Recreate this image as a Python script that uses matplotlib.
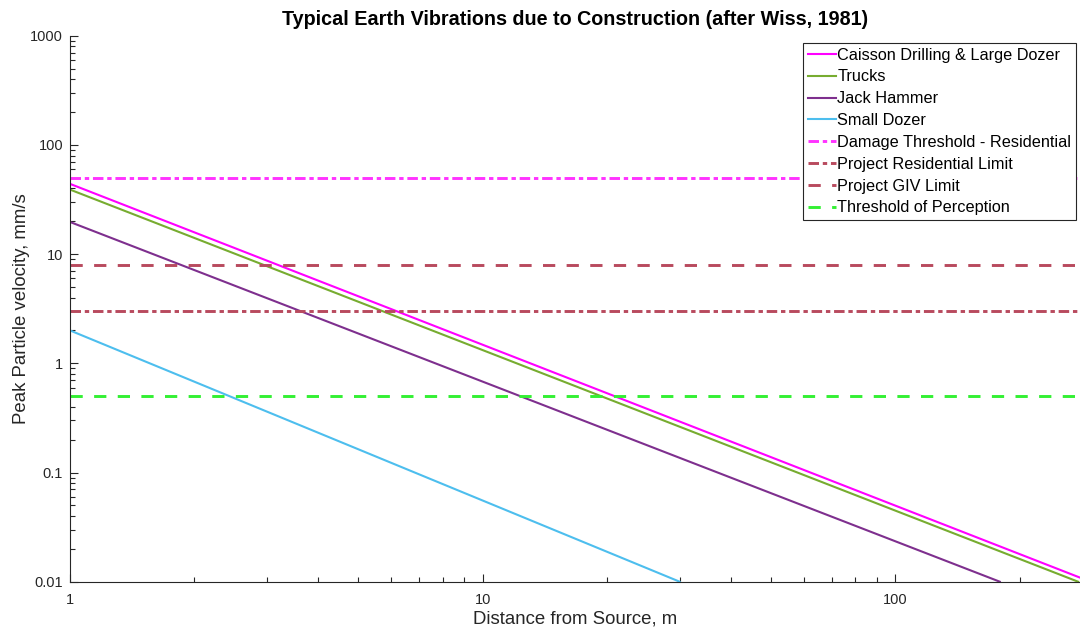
import matplotlib
matplotlib.use("Agg")
import matplotlib.pyplot as plt
from matplotlib.ticker import FixedLocator, FixedFormatter, LogLocator, NullFormatter

plt.rcParams['font.family'] = ['Liberation Sans', 'DejaVu Sans']

# Attenuation lines (distance m, peak particle velocity mm/s) at their end points
caisson_d = [1, 280]
caisson_v = [44, 0.0109]
trucks_d = [1, 277]
trucks_v = [39, 0.01]
jack_d = [1, 179]
jack_v = [19.7, 0.01]
dozer_d = [1, 30]
dozer_v = [2.0, 0.01]

# Horizontal limits (mm/s)
damage_threshold = 50
residential_limit = 3
giv_limit = 8
perception_threshold = 0.5

x_range = [1, 280]
y_range = [0.01, 1000]
y_ticks = [0.01, 0.1, 1, 10, 100, 1000]
y_tick_labels = ['0.01', '0.1', '1', '10', '100', '1000']
x_ticks = [1, 10, 100]
x_tick_labels = ['1', '10', '100']

fig = plt.figure(figsize=(10.8, 6.29), dpi=100)
ax = fig.add_axes([0.0648, 0.0752, 0.9352, 0.868])

dash_dot = (3.6, 1.3, 1.5, 1.3)
dashed = (4.2, 3.9)

ax.plot(caisson_d, caisson_v, color='#FF00FF', lw=1.5, label='Caisson Drilling & Large Dozer')
ax.plot(trucks_d, trucks_v, color='#77AC30', lw=1.5, label='Trucks')
ax.plot(jack_d, jack_v, color='#7E2F8E', lw=1.5, label='Jack Hammer')
ax.plot(dozer_d, dozer_v, color='#4DBEEE', lw=1.5, label='Small Dozer')

ax.plot(x_range, [damage_threshold] * 2, color='#FF33FF', lw=2.1,
        dashes=dash_dot, label='Damage Threshold - Residential')
ax.plot(x_range, [residential_limit] * 2, color='#B84A5E', lw=2.1,
        dashes=dash_dot, label='Project Residential Limit')
ax.plot(x_range, [giv_limit] * 2, color='#B84A5E', lw=2.1,
        dashes=dashed, label='Project GIV Limit')
ax.plot(x_range, [perception_threshold] * 2, color='#33F033', lw=2.1,
        dashes=dashed, label='Threshold of Perception')

ax.set_xscale('log')
ax.set_yscale('log')
ax.set_xlim(x_range)
ax.set_ylim(y_range)

ax.yaxis.set_major_locator(FixedLocator(y_ticks))
ax.yaxis.set_major_formatter(FixedFormatter(y_tick_labels))
ax.xaxis.set_major_locator(FixedLocator(x_ticks))
ax.xaxis.set_major_formatter(FixedFormatter(x_tick_labels))
ax.xaxis.set_minor_locator(LogLocator(base=10, subs=range(2, 10), numticks=20))
ax.yaxis.set_minor_locator(LogLocator(base=10, subs=range(2, 10), numticks=20))
ax.xaxis.set_minor_formatter(NullFormatter())
ax.yaxis.set_minor_formatter(NullFormatter())

axis_color = '#262626'
for side in ('top', 'right'):
    ax.spines[side].set_visible(False)
for side in ('left', 'bottom'):
    ax.spines[side].set_color(axis_color)
    ax.spines[side].set_linewidth(0.8)
ax.tick_params(which='both', direction='in', colors=axis_color, labelsize=10.5, width=0.8)
ax.tick_params(which='major', length=6)
ax.tick_params(which='minor', length=3.5)
ax.tick_params(axis='x', which='major', pad=8)
ax.tick_params(axis='y', which='major', pad=5)

ax.set_xlabel('Distance from Source, m', fontsize=13.4, color=axis_color, labelpad=3)
ax.set_ylabel('Peak Particle velocity, mm/s', fontsize=13.4, color=axis_color, labelpad=0)
ax.set_title('Typical Earth Vibrations due to Construction (after Wiss, 1981)',
             fontsize=14.2, fontweight='bold', pad=8)

leg = ax.legend(loc='upper right', bbox_to_anchor=(0.9995, 0.993), fontsize=11.7,
                handlelength=1.7, handletextpad=0.1, borderaxespad=0.2,
                labelspacing=0.42, borderpad=0.3, fancybox=False, framealpha=1)
leg.get_frame().set_edgecolor(axis_color)
leg.get_frame().set_linewidth(0.8)

fig.savefig('out.png', dpi=100)
